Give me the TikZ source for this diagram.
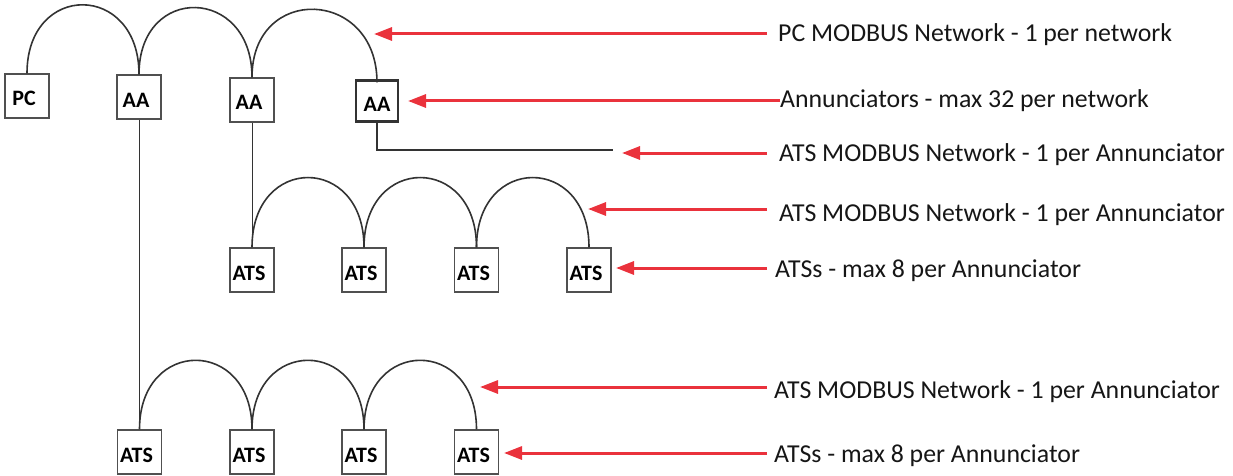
\documentclass[tikz,border=0pt]{standalone}
\usepackage{fontspec}
\setmainfont{Carlito}
\usetikzlibrary{arrows.meta}
\definecolor{abbred}{RGB}{234,50,60}
\definecolor{ink}{RGB}{51,51,51}
\definecolor{boxline}{RGB}{80,80,80}
\definecolor{txt}{RGB}{22,22,22}
\begin{document}
\begin{tikzpicture}[x=1pt,y=-1pt,
  box/.style={draw=boxline, line width=1.4pt, fill=white, minimum width=44pt, minimum height=44pt,
    inner sep=0pt, font=\bfseries\fontsize{22}{22}\selectfont, text=black, text height=20pt, text depth=0pt},
  wire/.style={draw=ink, line width=1.6pt},
  drop/.style={draw=ink, line width=0.8pt},
  note/.style={anchor=base west, inner sep=0pt, font=\fontsize{25.8}{25.8}\selectfont, text=txt},
  redarrow/.style={draw=abbred, line width=3pt, -{Triangle[length=18pt,width=13pt]}}]
\useasboundingbox (0,0) rectangle (1233,476);

% top row
\node[box] (pc)  at (27,96)  {PC\kern6pt};
\node[box] (aa1) at (139,97) {AA\kern6pt};
\node[box] (aa2) at (252,100) {AA\kern6pt};
\node[box, draw=ink, line width=2.4pt, minimum width=42pt, minimum height=41pt] (aa3) at (377,101) {AA\kern0pt};

% middle row
\node[box] (m1) at (252,270) {ATS\kern6pt};
\node[box] (m2) at (364,270) {ATS\kern6pt};
\node[box] (m3) at (476.5,270) {ATS\kern6pt};
\node[box] (m4) at (589,270) {ATS\kern6pt};

% bottom row
\node[box] (b1) at (139.5,452) {ATS\kern6pt};
\node[box] (b2) at (252,452) {ATS\kern6pt};
\node[box] (b3) at (364,452) {ATS\kern6pt};
\node[box] (b4) at (476.5,452) {ATS\kern6pt};

% PC network arcs
\draw[wire] (pc.north) .. controls +(0,-92) and +(0,-92) .. (aa1.north);
\draw[wire] (aa1.north) .. controls +(0,-91) and +(0,-91) .. (aa2.north);
\draw[wire] (aa2.north) .. controls +(0,-94) and +(0,-94) .. ([yshift=-3pt]aa3.north);

% middle ATS network arcs
\draw[wire] (m1.north) .. controls +(0,-93) and +(0,-93) .. (m2.north);
\draw[wire] (m2.north) .. controls +(0,-93) and +(0,-93) .. (m3.north);
\draw[wire] (m3.north) .. controls +(0,-93) and +(0,-93) .. (m4.north);

% bottom ATS network arcs
\draw[wire] (b1.north) .. controls +(0,-92) and +(0,-92) .. (b2.north);
\draw[wire] (b2.north) .. controls +(0,-92) and +(0,-92) .. (b3.north);
\draw[wire] (b3.north) .. controls +(0,-92) and +(0,-92) .. (b4.north);

% drops
\draw[drop] (aa1.south) -- (aa1.south |- b1.north);
\draw[drop] (aa2.south) -- (m1.north);
\coordinate (aa3end) at (613,150);
\draw[draw=ink, line width=1.5pt] (aa3.south) |- (aa3end);

% labels
\node[note] (t1) at (778,42)  {PC MODBUS Network - 1 per network};
\node[note] (t2) at (780,108) {Annunciators - max 32 per network};
\node[note] (t3) at (779,161) {ATS MODBUS Network - 1 per Annunciator};
\node[note] (t4) at (779,221) {ATS MODBUS Network - 1 per Annunciator};
\node[note] (t5) at (775,277) {ATSs - max 8 per Annunciator};
\node[note] (t6) at (774,398) {ATS MODBUS Network - 1 per Annunciator};
\node[note] (t7) at (774,462) {ATSs - max 8 per Annunciator};

% arrow tips
\coordinate (e1) at (374,34);
\coordinate (e2) at (408,101);
\coordinate (e3) at (622,153);
\coordinate (e4) at (588,209);
\coordinate (e5) at (616,268);
\coordinate (e6) at (480,387);
\coordinate (e7) at (504,453);

\draw[redarrow] (t1.west |- e1) ++(-11,0) -- (e1);
\draw[redarrow] (t2.west |- e2) -- (e2);
\draw[redarrow] (t3.west |- e3) ++(-12,0) -- (e3);
\draw[redarrow] (t4.west |- e4) ++(-12,0) -- (e4);
\draw[redarrow] (t5.west |- e5) ++(-8,0) -- (e5);
\draw[redarrow] (t6.west |- e6) ++(-7,0) -- (e6);
\draw[redarrow] (t7.west |- e7) ++(-7,0) -- (e7);
\end{tikzpicture}
\end{document}
